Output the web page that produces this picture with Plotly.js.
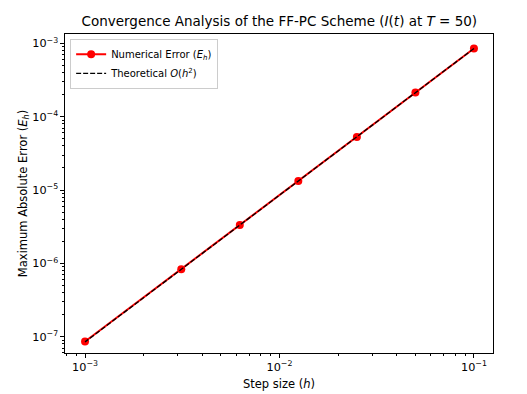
<!DOCTYPE html>
<html lang="en">
<head>
    <meta charset="UTF-8">
    <script src="https://cdn.plot.ly/plotly-3.0.1.min.js"></script>
    <style>
        html, body, #plot {
            height: 100%;
            width: 100%;
            margin: 0;
            padding: 0;
            overflow: hidden;
            background: #fff;
        }
    </style>
</head>
<body>
<div id="plot"></div>
<script>
    // step sizes and errors
    const stepSizes = [0.1, 0.05, 0.025, 0.0125, 0.00625, 0.003125, 0.001];
    const numericalError = [8.5e-4, 2.13e-4, 5.3e-5, 1.33e-5, 3.33e-6, 8.3e-7, 8.6e-8];
    const theoreticalError = [8.5e-4, 2.125e-4, 5.31e-5, 1.33e-5, 3.32e-6, 8.3e-7, 8.5e-8];

    const font = 'DejaVu Sans, sans-serif';

    const traceNum = {
        x: stepSizes,
        y: numericalError,
        type: 'scatter',
        mode: 'lines+markers',
        name: 'Numerical Error (<i>E<sub>h</sub></i>)',
        line: { color: '#ff0000', width: 2 },
        marker: { color: '#ff0000', size: 8 }
    };

    const traceTheory = {
        x: stepSizes,
        y: theoreticalError,
        type: 'scatter',
        mode: 'lines',
        name: 'Theoretical <i>O</i>(<i>h</i><sup>2</sup>)',
        line: { color: '#000000', width: 1.3, dash: '5px,2px' }
    };

    const axisCommon = {
        type: 'log',
        dtick: 1,
        exponentformat: 'power',
        showgrid: false,
        zeroline: false,
        showline: true,
        mirror: true,
        linecolor: '#000',
        linewidth: 1,
        ticks: 'outside',
        ticklen: 4,
        tickcolor: '#000',
        tickfont: { family: font, size: 9, color: '#000' },
        minor: { ticks: 'outside', ticklen: 2, tickcolor: '#000', dtick: 'D1' }
    };

    const layout = {
        width: 527,
        height: 394,
        margin: { l: 65, r: 34, t: 34, b: 41, pad: 0 },
        paper_bgcolor: '#fff',
        plot_bgcolor: '#fff',
        title: {
            text: 'Convergence Analysis of the FF-PC Scheme (<i>I</i>(<i>t</i>) at <i>T</i> = 50)',
            font: { family: font, size: 13.5, color: '#000' },
            x: 0.53,
            xanchor: 'center',
            y: 0.945,
            yanchor: 'middle'
        },
        xaxis: Object.assign({}, axisCommon, {
            range: [-3.103, -0.902],
            title: { text: 'Step size (<i>h</i>)', font: { family: font, size: 11.5, color: '#000' }, standoff: 6 }
        }),
        yaxis: Object.assign({}, axisCommon, {
            range: [-7.222, -2.873],
            title: { text: 'Maximum Absolute Error (<i>E<sub>h</sub></i>)', font: { family: font, size: 11.5, color: '#000' }, standoff: 2 }
        }),
        showlegend: true,
        legend: {
            x: 0.012,
            y: 0.985,
            xanchor: 'left',
            yanchor: 'top',
            bgcolor: 'rgba(255,255,255,0.8)',
            bordercolor: '#cccccc',
            borderwidth: 1,
            itemwidth: 30,
            font: { family: font, size: 10, color: '#000' },
            tracegroupgap: 0
        }
    };

    Plotly.newPlot('plot', [traceNum, traceTheory], layout, { displayModeBar: false, staticPlot: true });
</script>
</body>
</html>
